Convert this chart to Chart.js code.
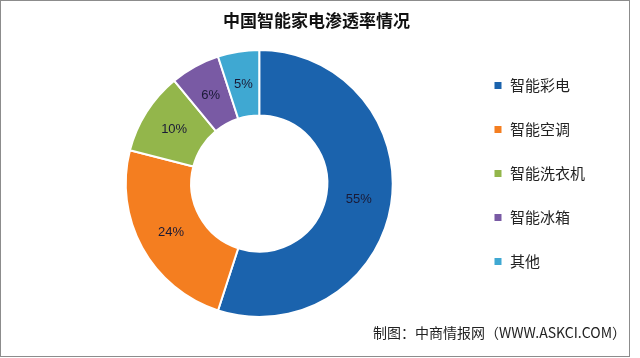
<!DOCTYPE html>
<html><head><meta charset="utf-8">
<script src="https://cdn.jsdelivr.net/npm/chart.js@4.4.1/dist/chart.umd.min.js"></script>
<style>
html,body{margin:0;padding:0;background:#fff;}
#wrap{position:absolute;left:0;top:0;width:628px;height:355px;border:1px solid #8c8c8c;background:#fff;}
canvas{display:block;}
</style></head>
<body><div id="wrap"><canvas id="c" width="628" height="355"></canvas></div>
<script>
const chartTitle = '中国智能家电渗透率情况';
const sourceNote = '制图：中商情报网（WWW.ASKCI.COM）';
const categories = ['智能彩电', '智能空调', '智能洗衣机', '智能冰箱', '其他'];
const penetration = [55, 24, 10, 6, 5];
const sliceColors = ['#1B63AD', '#F47E20', '#93B64B', '#795AA4', '#3FA8D2'];

const sliceLabels = {
  id: 'sliceLabels',
  afterDatasetsDraw(chart) {
    const ctx = chart.ctx;
    const meta = chart.getDatasetMeta(0);
    ctx.save();
    ctx.font = '13px "Liberation Sans", sans-serif';
    ctx.fillStyle = '#1a1a36';
    ctx.textAlign = 'center';
    ctx.textBaseline = 'middle';
    meta.data.forEach((arc, i) => {
      const p = arc.tooltipPosition();
      ctx.fillText(chart.data.datasets[0].data[i] + '%', p.x, p.y);
    });
    ctx.restore();
  }
};

const headerFooter = {
  id: 'headerFooter',
  afterDraw(chart) {
    const ctx = chart.ctx;
    ctx.save();
    ctx.textBaseline = 'middle';
    ctx.fillStyle = '#111';
    ctx.textAlign = 'center';
    ctx.font = 'bold 17px "Noto Sans CJK SC", sans-serif';
    ctx.fillText(chartTitle, chart.width / 2 + 1.5, 20);
    ctx.fillStyle = '#222';
    ctx.textAlign = 'right';
    ctx.font = '14px "Noto Sans CJK SC", sans-serif';
    ctx.fillText(sourceNote, chart.width - 3, chart.height - 23);
    ctx.restore();
  }
};

new Chart(document.getElementById('c'), {
  type: 'doughnut',
  data: {
    labels: categories,
    datasets: [{
      data: penetration,
      backgroundColor: sliceColors,
      borderColor: '#ffffff',
      borderWidth: 2,
      hoverOffset: 0
    }]
  },
  options: {
    responsive: false,
    animation: false,
    rotation: 0,
    cutout: '51%',
    layout: { padding: { left: 53, right: 34, top: 48, bottom: 38 } },
    plugins: {
      title: { display: false },
      legend: {
        position: 'right',
        align: 'start',
        fullSize: false,
        labels: {
          boxWidth: 9,
          boxHeight: 9,
          padding: 29,
          color: '#222',
          font: { family: '"Noto Sans CJK SC", sans-serif', size: 15 }
        }
      },
      tooltip: { enabled: false }
    }
  },
  plugins: [sliceLabels, headerFooter]
});
</script>
</body></html>
